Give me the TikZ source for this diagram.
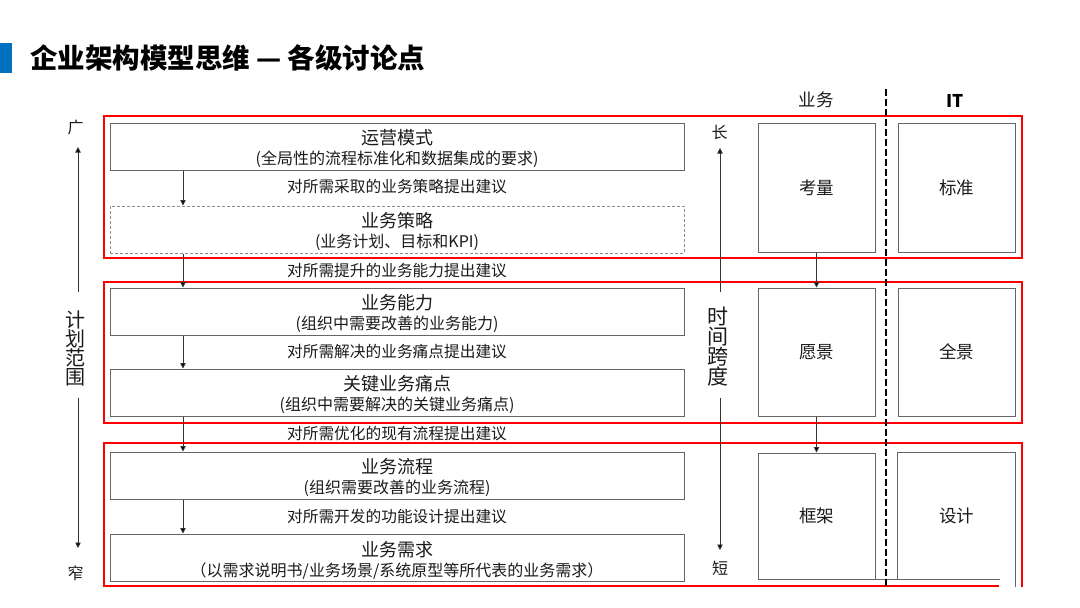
\documentclass[tikz,border=0pt]{standalone}
\usepackage{fontspec}
\setmainfont{Noto Sans CJK SC}
\usetikzlibrary{arrows.meta}
\definecolor{boxgray}{HTML}{666666}
\definecolor{arrgray}{HTML}{333333}
\definecolor{txt}{HTML}{1A1A1A}
\definecolor{redline}{HTML}{FF0000}
\definecolor{titleblue}{HTML}{0070C0}
\begin{document}
\begin{tikzpicture}[x=1pt,y=-1pt,
  lbox/.style={draw=boxgray,line width=1pt,minimum width=574pt,minimum height=47pt,inner sep=0pt},
  dbox/.style={lbox,draw=boxgray!75,dash pattern=on 3pt off 2pt},
  rbox/.style={draw=boxgray,line width=1pt,minimum width=117pt,minimum height=#1,inner sep=0pt,
    font=\fontsize{17.5}{20}\selectfont,text=txt},
  hbox/.style={minimum width=117pt,minimum height=#1,inner sep=0pt},
  ttl/.style={font=\fontsize{18}{20}\selectfont,text=txt,inner sep=0pt},
  sub/.style={font=\fontsize{16}{18}\selectfont,text=txt,inner sep=0pt},
  rec/.style={font=\fontsize{15.7}{18}\selectfont,text=txt,inner sep=0pt},
  axl/.style={font=\fontsize{16}{18}\selectfont,text=txt,inner sep=0pt},
  axv/.style={font=\fontsize{20}{19}\selectfont,text=txt,inner sep=0pt,align=center},
  redbox/.style={draw=redline,line width=1.5pt},
  arr/.style={draw=arrgray,line width=0.9pt,-{Triangle[length=5.5pt,width=5.5pt,fill=black]}},
  glin/.style={draw=boxgray,line width=1pt},
  divider/.style={draw=black,line width=1.6pt,dash pattern=on 6.5pt off 3.5pt}
]
\useasboundingbox (0,0) rectangle (1080,608);
% title
\fill[titleblue] (0,43) rectangle (12,73);
\node[anchor=west,inner sep=0pt,font=\fontsize{27.5}{30}\selectfont\bfseries] (title) at (30,58) {企业架构模型思维 — 各级讨论点};
% headers
\node[font=\fontsize{17.5}{20}\selectfont,text=txt,inner sep=0pt] (hbiz) at (816,100) {业务};
\node[font=\fontsize{17.5}{20}\selectfont\bfseries,inner sep=0pt] (hit) at (955,101) {IT};
% red group frames
\draw[redbox] (104,116) rectangle (1022,258);
\draw[redbox] (104,282) rectangle (1022,423);
\draw[redbox] (999,586) -- (104,586) -- (104,443) -- (1022,443) -- (1022,587);
% left boxes
\node[lbox] (yy) at (397,146.5) {};
\node[ttl] (yyt) at (397,138) {运营模式};
\node[sub] (yys) at (397,159) {(全局性的流程标准化和数据集成的要求)};
\node[rec] (r1) at (397,187) {对所需采取的业务策略提出建议};
\node[dbox] (cl) at (397,229.5) {};
\node[ttl] (clt) at (397,221) {业务策略};
\node[sub] (cls) at (397,242) {(业务计划、目标和KPI)};
\node[rec] (r2) at (397,271) {对所需提升的业务能力提出建议};
\node[lbox] (nl) at (397,311.5) {};
\node[ttl] (nlt) at (397,303) {业务能力};
\node[sub] (nls) at (397,324) {(组织中需要改善的业务能力)};
\node[rec] (r3) at (397,352) {对所需解决的业务痛点提出建议};
\node[lbox] (td) at (397,392.5) {};
\node[ttl] (tdt) at (397,384) {关键业务痛点};
\node[sub] (tds) at (397,405) {(组织中需要解决的关键业务痛点)};
\node[rec] (r4) at (397,434) {对所需优化的现有流程提出建议};
\node[lbox] (lc) at (397,475.5) {};
\node[ttl] (lct) at (397,467) {业务流程};
\node[sub] (lcs) at (397,488) {(组织需要改善的业务流程)};
\node[rec] (r5) at (397,517) {对所需开发的功能设计提出建议};
\node[lbox] (xq) at (397,557.5) {};
\node[ttl] (xqt) at (397,550) {业务需求};
\node[sub] (xqs) at (397,571) {（以需求说明书/业务场景/系统原型等所代表的业务需求）};
% left flow arrows
\draw[arr] ([xshift=-214pt]yy.south) -- ([xshift=-214pt]cl.north);
\draw[arr] ([xshift=-214pt]cl.south) -- ([xshift=-214pt]nl.north);
\draw[arr] ([xshift=-214pt]nl.south) -- ([xshift=-214pt]td.north);
\draw[arr] ([xshift=-214pt]td.south) -- ([xshift=-214pt]lc.north);
\draw[arr] ([xshift=-214pt]lc.south) -- ([xshift=-214pt]xq.north);
% left axis
\node[axl] (guang) at (75.5,127) {广};
\node[axv] (jihua) at (75,348) {计\\划\\范\\围};
\node[axl] (zhai) at (75.5,573) {窄};
\coordinate (la1) at (78,292);
\coordinate (lat) at (78,147);
\coordinate (la2) at (78,398);
\coordinate (lab) at (78,548);
\draw[arr] (la1) -- (lat);
\draw[arr] (la2) -- (lab);
% middle axis
\node[axl] (chang) at (719.5,132) {长};
\node[axv,font=\fontsize{21}{20}\selectfont] (shijian) at (718,347) {时\\间\\跨\\度};
\node[axl] (duan) at (720,568) {短};
\coordinate (ma1) at (720,292);
\coordinate (mat) at (720,148);
\coordinate (ma2) at (720,398);
\coordinate (mab) at (720,550);
\draw[arr] (ma1) -- (mat);
\draw[arr] (ma2) -- (mab);
% right boxes
\node[rbox=129pt] (kl) at (816.5,187.5) {考量};
\node[rbox=129pt] (bz) at (956.5,187.5) {标准};
\node[rbox=128pt] (yj) at (816.5,352) {愿景};
\node[rbox=128pt] (qj) at (956.5,352) {全景};
\node[rbox=126pt] (kj) at (816.5,516) {框架};
\node[hbox=126pt,font=\fontsize{17.5}{20}\selectfont,text=txt] (sj) at (956.5,516) {设计};
\draw[glin] (sj.south west) -- (sj.north west) -- (sj.north east) -- ([yshift=-8pt]sj.south east);
\draw[glin] (kj.south east) -- ++(124,0);
\draw[arr] (kl.south) -- (yj.north);
\draw[arr] (yj.south) -- (kj.north);
% divider
\coordinate (d1) at (886,89);
\coordinate (d2) at (886,587);
\draw[divider] (d1) -- (d2);
\end{tikzpicture}
\end{document}
